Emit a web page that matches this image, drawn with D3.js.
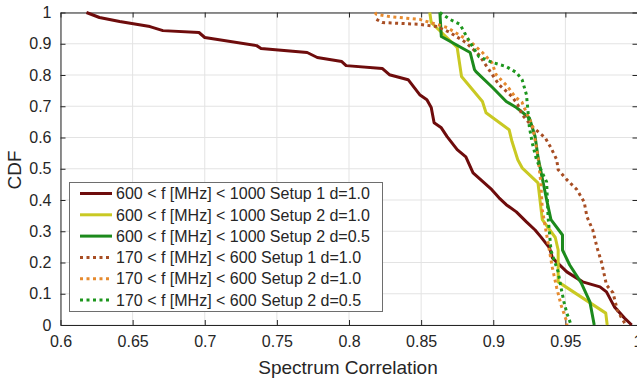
<!DOCTYPE html>
<html><head><meta charset="utf-8">
<script src="https://cdn.jsdelivr.net/npm/d3@7"></script>
<style>body{margin:0;background:#fff}svg{display:block;font-family:"Liberation Sans",Arial,sans-serif}</style>
</head><body><svg id="c" width="637" height="385"></svg>
<script>
const xTicks = [0.6,0.65,0.7,0.75,0.8,0.85,0.9,0.95,1];
const yTicks = [0,0.1,0.2,0.3,0.4,0.5,0.6,0.7,0.8,0.9,1];
const xLabel = "Spectrum Correlation";
const yLabel = "CDF";
const seriesNames = [
  "600 < f [MHz] < 1000 Setup 1 d=1.0",
  "600 < f [MHz] < 1000 Setup 2 d=1.0",
  "600 < f [MHz] < 1000 Setup 2 d=0.5",
  "170 < f [MHz] < 600 Setup 1 d=1.0",
  "170 < f [MHz] < 600 Setup 2 d=1.0",
  "170 < f [MHz] < 600 Setup 2 d=0.5"
];
const seriesColors = ["#6e0c0c","#c9c923","#1c8a1c","#a84e24","#e68a2e","#1d961d"];
const seriesDashed = [false,false,false,true,true,true];

const s1_600_1000_d10 = [[0.618,1.0],[0.627,0.984],[0.641,0.971],[0.662,0.955],[0.671,0.942],[0.696,0.936],[0.700,0.920],[0.736,0.894],[0.739,0.885],[0.771,0.872],[0.778,0.856],[0.795,0.843],[0.798,0.830],[0.823,0.821],[0.828,0.801],[0.841,0.785],[0.849,0.737],[0.854,0.721],[0.857,0.696],[0.859,0.647],[0.864,0.631],[0.868,0.603],[0.875,0.561],[0.881,0.538],[0.886,0.487],[0.893,0.458],[0.899,0.433],[0.904,0.407],[0.909,0.385],[0.916,0.362],[0.923,0.330],[0.929,0.304],[0.933,0.282],[0.939,0.247],[0.941,0.215],[0.951,0.170],[0.962,0.138],[0.974,0.122],[0.9785,0.106],[0.984,0.058],[0.991,0.022],[0.996,0]];
const s2_600_1000_d10 = [[0.856,1.0],[0.857,0.968],[0.875,0.888],[0.878,0.795],[0.8925,0.715],[0.895,0.679],[0.911,0.625],[0.913,0.587],[0.917,0.529],[0.920,0.503],[0.931,0.455],[0.934,0.337],[0.943,0.28],[0.945,0.24],[0.945,0.138],[0.978,0.038],[0.979,0]];
const s2_600_1000_d05 = [[0.863,1.0],[0.864,0.923],[0.884,0.872],[0.887,0.817],[0.888,0.811],[0.8995,0.760],[0.909,0.715],[0.916,0.696],[0.925,0.663],[0.929,0.603],[0.931,0.538],[0.937,0.401],[0.940,0.337],[0.948,0.288],[0.948,0.240],[0.953,0.192],[0.961,0.135],[0.967,0.074],[0.970,0]];
const s1_170_600_d10 = [[0.819,0.978],[0.823,0.968],[0.849,0.962],[0.861,0.955],[0.870,0.936],[0.881,0.904],[0.890,0.865],[0.897,0.817],[0.904,0.769],[0.913,0.731],[0.917,0.705],[0.920,0.673],[0.927,0.635],[0.936,0.599],[0.940,0.567],[0.944,0.529],[0.945,0.497],[0.951,0.465],[0.958,0.433],[0.963,0.394],[0.965,0.346],[0.969,0.304],[0.972,0.247],[0.975,0.202],[0.977,0.160],[0.9785,0.128],[0.983,0.103],[0.986,0.048],[0.989,0.022],[0.992,0]];
const s2_170_600_d10 = [[0.818,1.0],[0.819,0.994],[0.828,0.987],[0.849,0.978],[0.868,0.952],[0.884,0.907],[0.8925,0.872],[0.899,0.840],[0.902,0.801],[0.910,0.763],[0.915,0.731],[0.920,0.712],[0.923,0.679],[0.927,0.641],[0.929,0.593],[0.931,0.538],[0.933,0.455],[0.934,0.369],[0.938,0.263],[0.941,0.183],[0.944,0.119],[0.947,0.064],[0.951,0.010],[0.951,0]];
const s2_170_600_d05 = [[0.863,1.0],[0.870,0.978],[0.877,0.962],[0.880,0.936],[0.884,0.904],[0.890,0.859],[0.8995,0.840],[0.909,0.827],[0.916,0.808],[0.920,0.785],[0.923,0.737],[0.924,0.689],[0.925,0.635],[0.927,0.583],[0.930,0.529],[0.934,0.487],[0.937,0.458],[0.938,0.346],[0.940,0.240],[0.941,0.224],[0.945,0.170],[0.947,0.119],[0.949,0.074],[0.951,0.038],[0.954,0]];
const seriesData = [s1_600_1000_d10,s2_600_1000_d10,s2_600_1000_d05,s1_170_600_d10,s2_170_600_d10,s2_170_600_d05];

const svg = d3.select("#c");
const L=60.5, R=637.5, T=12.5, B=325;
const x = d3.scaleLinear().domain([0.6,1]).range([L,R]);
const y = d3.scaleLinear().domain([0,1]).range([B,T]);
const fmt = d3.format("~g");

// grid
const g = svg.append("g");
g.selectAll("line.gx").data(xTicks).join("line").attr("x1",d=>x(d)).attr("x2",d=>x(d)).attr("y1",T).attr("y2",B).attr("stroke","#e3e3e3").attr("stroke-width",1);
g.selectAll("line.gy").data(yTicks).join("line").attr("y1",d=>y(d)).attr("y2",d=>y(d)).attr("x1",L).attr("x2",R).attr("stroke","#e3e3e3").attr("stroke-width",1);

const axCol = "#262626";
function styleAxis(sel){
  sel.select(".domain").attr("stroke",axCol).attr("stroke-width",1);
  sel.selectAll(".tick line").attr("stroke",axCol);
  sel.selectAll(".tick text").attr("fill",axCol).attr("font-size",16).attr("font-family","Liberation Sans, Arial, sans-serif");
}
svg.append("g").attr("transform",`translate(0,${B})`).call(d3.axisBottom(x).tickValues(xTicks).tickFormat(fmt).tickSizeInner(-5).tickSizeOuter(0).tickPadding(11)).call(styleAxis);
svg.append("g").attr("transform",`translate(${L},0)`).call(d3.axisLeft(y).tickValues(yTicks).tickFormat(fmt).tickSizeInner(-5).tickSizeOuter(0).tickPadding(9)).call(styleAxis);
svg.append("g").attr("transform",`translate(0,${T})`).call(d3.axisTop(x).tickValues(xTicks).tickFormat("").tickSizeInner(-5).tickSizeOuter(0)).call(styleAxis);
svg.append("g").attr("transform",`translate(${R},0)`).call(d3.axisRight(y).tickValues(yTicks).tickFormat("").tickSizeInner(-5).tickSizeOuter(0)).call(styleAxis);

// lines
const line = d3.line().x(d=>x(d[0])).y(d=>y(d[1]));
const clip = svg.append("clipPath").attr("id","pc").append("rect").attr("x",L).attr("y",T-2).attr("width",R-L).attr("height",B-T+2);
const lg = svg.append("g");
seriesData.forEach((data,i)=>{
  lg.append("path").datum(data).attr("d",line).attr("fill","none")
    .attr("stroke",seriesColors[i]).attr("stroke-width",3)
    .attr("stroke-dasharray",seriesDashed[i]?"3,3.5":null)
    .attr("stroke-linejoin","round");
});

// axis labels
svg.append("text").attr("x",348).attr("y",374).attr("text-anchor","middle").attr("font-size",19).attr("fill",axCol).text(xLabel);
svg.append("text").attr("transform","translate(21,170) rotate(-90)").attr("text-anchor","middle").attr("font-size",19).attr("fill",axCol).text(yLabel);

// legend
const leg = svg.append("g");
leg.append("rect").attr("x",69.5).attr("y",182.5).attr("width",313).attr("height",129).attr("fill","#fff").attr("stroke","#6e6e6e").attr("stroke-width",1);
seriesNames.forEach((n,i)=>{
  const yy = 193.5 + i*21.3;
  leg.append("line").attr("x1",80).attr("x2",112).attr("y1",yy).attr("y2",yy)
    .attr("stroke",seriesColors[i]).attr("stroke-width",3).attr("stroke-dasharray",seriesDashed[i]?"3,3.5":null);
  leg.append("text").attr("x",116).attr("y",yy+5.7).attr("font-size",16).attr("fill",axCol).text(n);
});
</script></body></html>
